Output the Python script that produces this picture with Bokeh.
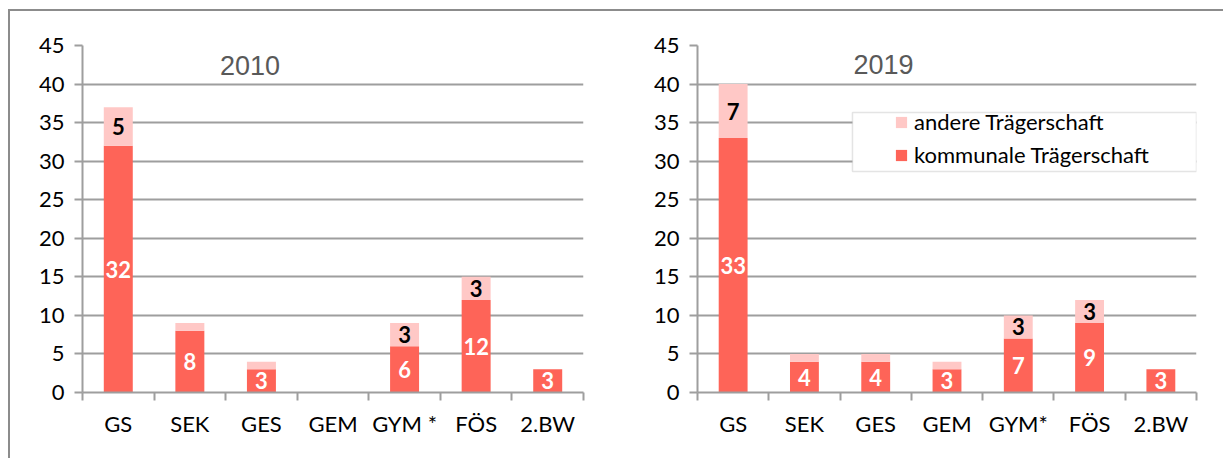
from bokeh.plotting import figure
from bokeh.layouts import row
from bokeh.models import (FixedTicker, Range1d, Label, BoxAnnotation, Legend,
                          LegendItem, ColumnDataSource)
from bokeh.embed import file_html
from bokeh.resources import INLINE
from bokeh.core.properties import value

# ---------------- data ----------------
categories_2010 = ["GS", "SEK", "GES", "GEM", "GYM *", "FÖS", "2.BW"]
categories_2019 = ["GS", "SEK", "GES", "GEM", "GYM*", "FÖS", "2.BW"]
kommunal_2010 = [32, 8, 3, 0, 6, 12, 3]
andere_2010 = [5, 1, 1, 0, 3, 3, 0]
kommunal_2019 = [33, 4, 4, 3, 7, 9, 3]
andere_2019 = [7, 1, 1, 1, 3, 3, 0]
y_ticks = [0, 5, 10, 15, 20, 25, 30, 35, 40, 45]
series_names = ["kommunale Trägerschaft", "andere Trägerschaft"]

# ---------------- style ----------------
DARK = "#FE6458"
LIGHT = "#FFC8C6"
GRID = "#9E9E9E"
FONT = "Lato"
TITLE_FONT = "Liberation Sans"


def make_panel(cats, komm, andere, year, title_xy, border_left, border_right, legend=False):
    n = len(cats)
    xs = [i + 0.5 for i in range(n)]
    src = ColumnDataSource(dict(x=xs, komm=komm, andere=andere))

    p = figure(frame_width=501 if not legend else 499, frame_height=347,
               min_border_left=border_left, min_border_right=border_right,
               min_border_top=34, min_border_bottom=66,
               x_range=Range1d(0, n), y_range=Range1d(0, 45),
               output_backend="svg", toolbar_location=None)
    p.outline_line_color = None
    p.background_fill_color = "white"
    p.border_fill_color = "white"

    rs = p.vbar_stack(["komm", "andere"], x="x", width=0.405, source=src,
                      color=[DARK, LIGHT], line_color=None)

    # axes
    p.xgrid.grid_line_color = None
    p.ygrid.grid_line_color = GRID
    p.ygrid.grid_line_width = 2
    p.ygrid.ticker = FixedTicker(ticks=y_ticks)

    ya = p.yaxis[0]
    ya.ticker = FixedTicker(ticks=y_ticks)
    ya.axis_line_color = GRID
    ya.axis_line_width = 2
    ya.major_tick_line_color = GRID
    ya.major_tick_line_width = 2
    ya.major_tick_out = 8
    ya.major_tick_in = 0
    ya.minor_tick_line_color = None
    ya.major_label_standoff = 10
    ya.major_label_text_font = FONT
    ya.major_label_text_font_size = "22px"
    ya.major_label_text_color = "black"

    xa = p.xaxis[0]
    xa.ticker = FixedTicker(ticks=xs, minor_ticks=list(range(n + 1)))
    xa.major_label_overrides = {x: c for x, c in zip(xs, cats)}
    xa.axis_line_color = GRID
    xa.axis_line_width = 2
    xa.major_tick_line_color = None
    xa.major_tick_out = 8
    xa.major_tick_in = 0
    xa.minor_tick_line_color = GRID
    xa.minor_tick_line_width = 2
    xa.minor_tick_out = 8
    xa.minor_tick_in = 0
    xa.major_label_standoff = 9
    xa.major_label_text_font = FONT
    xa.major_label_text_font_size = "22px"
    xa.major_label_text_color = "black"

    # value labels
    kx, ky, kt = [], [], []
    ax_, ay, at = [], [], []
    for x, k, a in zip(xs, komm, andere):
        if k > 0:
            kx.append(x); ky.append(k / 2); kt.append(str(k))
        if a >= 2:
            ax_.append(x); ay.append(k + a / 2); at.append(str(a))
    p.text(x=kx, y=ky, text=kt, text_align="center", text_baseline="middle",
           text_font=value(FONT), text_font_style="bold", text_font_size="22px",
           text_color="white")
    p.text(x=ax_, y=ay, text=at, text_align="center", text_baseline="middle",
           text_font=value(FONT), text_font_style="bold", text_font_size="22px",
           text_color="black")

    # panel title
    p.add_layout(Label(x=title_xy[0], y=title_xy[1], text=year, text_align="center",
                       text_baseline="middle", text_font=TITLE_FONT,
                       text_font_size="27px", text_color="#595959"))

    if legend:
        box = BoxAnnotation(left=2.174, right=7.0, top=36.31, bottom=28.66,
                            fill_color="white", fill_alpha=1.0,
                            line_color="#A6A6A6", line_width=1.5)
        p.add_layout(box)
        items = [LegendItem(label=series_names[1], renderers=[rs[1]]),
                 LegendItem(label=series_names[0], renderers=[rs[0]])]
        lg = Legend(items=items, location=(197, 224), padding=0, spacing=6,
                    glyph_width=14, glyph_height=14, label_height=24,
                    label_standoff=6, border_line_color=None,
                    background_fill_alpha=0.0, margin=0,
                    label_text_font=FONT, label_text_font_size="22px",
                    label_text_color="black")
        p.add_layout(lg)
    return p


p1 = make_panel(categories_2010, kommunal_2010, andere_2010, "2010", (2.34, 42.4), 72, 40)
p2 = make_panel(categories_2019, kommunal_2019, andere_2019, "2019", (2.61, 42.5), 74, 27,
                legend=True)

layout = row(p1, p2, styles={"border-top": "2px solid #8C8C8C",
                             "border-left": "2px solid #8C8C8C",
                             "margin-top": "9px", "margin-left": "8px"})

open("out.html", "w").write(file_html(layout, INLINE))
